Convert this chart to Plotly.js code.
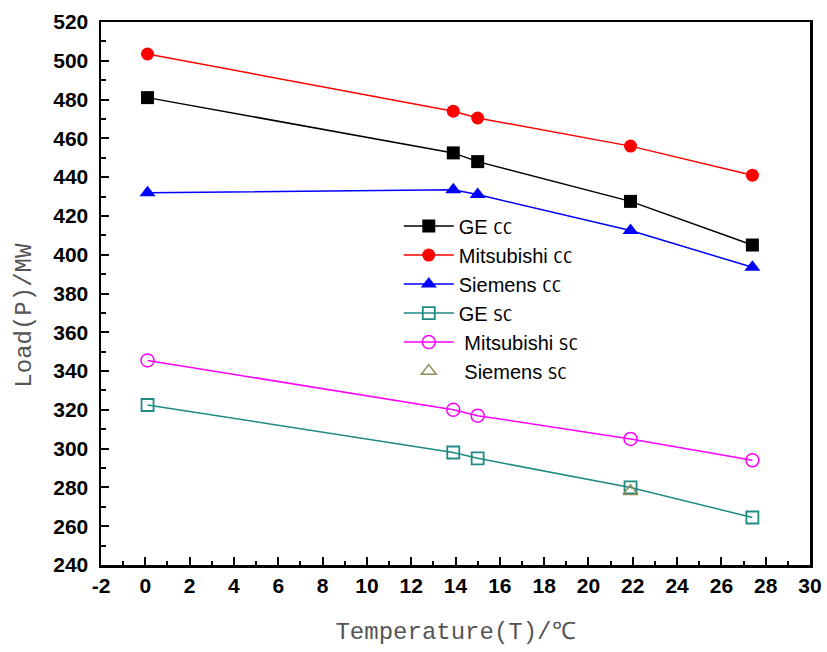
<!DOCTYPE html>
<html><head><meta charset="utf-8">
<script src="https://cdn.plot.ly/plotly-3.0.1.min.js"></script>
<style>body{margin:0;background:#fff}#c{width:827px;height:652px}</style>
</head><body><div id="c"></div>
<script>
const temps = [0.1, 13.9, 15.0, 21.9, 27.4];
const geCC = [481, 452.5, 448, 427.5, 405];
const mitsuCC = [503.5, 474, 470.5, 456, 441];
const siemensCC = [432, 433.5, 431, 412.5, 393.5];
const geSC = [322.5, 298, 295, 280, 264.5];
const mitsuSC = [345.5, 320, 317, 305, 294];
const siemensSCx = [21.9];
const siemensSC = [278];
const names = ['GE', 'Mitsubishi', 'Siemens', 'GE', 'Mitsubishi', 'Siemens'];
const suffix = ['CC', 'CC', 'CC', 'SC', 'SC', 'SC'];
const xTickVals = [-2, 0, 2, 4, 6, 8, 10, 12, 14, 16, 18, 20, 22, 24, 26, 28, 30];
const xTickText = ['-2', '0', '2', '4', '6', '8', '10', '12', '14', '16', '18', '20', '22', '24', '26', '28', '30'];
const yTickVals = [240, 260, 280, 300, 320, 340, 360, 380, 400, 420, 440, 460, 480, 500, 520];
const yTickText = ['240', '260', '280', '300', '320', '340', '360', '380', '400', '420', '440', '460', '480', '500', '520'];

function lab(i, pad) {
  return (pad ? '&nbsp;' : '') + names[i] + ' <span style="font-family:\'DejaVu Sans Mono\';font-size:16px">' + suffix[i] + '</span>';
}
const bold = arr => arr.map(s => '<b>' + s + '</b>');

const traces = [
  {x: temps, y: geCC, name: lab(0), mode: 'lines+markers',
   line: {color: '#000000', width: 1.5}, marker: {symbol: 'square', size: 13, color: '#000000'}},
  {x: temps, y: mitsuCC, name: lab(1), mode: 'lines+markers',
   line: {color: '#ff0000', width: 1.5}, marker: {symbol: 'circle', size: 13, color: '#ff0000'}},
  {x: temps, y: siemensCC, name: lab(2), mode: 'lines+markers',
   line: {color: '#0000ff', width: 1.5}, marker: {symbol: 'triangle-up', size: 14, color: '#0000ff'}},
  {x: temps, y: geSC, name: lab(3), mode: 'lines+markers',
   line: {color: '#1e8a84', width: 1.5}, marker: {symbol: 'square-open', size: 12, color: '#1e8a84', line: {width: 1.8}}},
  {x: temps, y: mitsuSC, name: lab(4, true), mode: 'lines+markers',
   line: {color: '#ff00ff', width: 1.5}, marker: {symbol: 'circle-open', size: 13, color: '#ff00ff', line: {width: 1.5}}},
  {x: siemensSCx, y: siemensSC, name: lab(5, true), mode: 'markers',
   marker: {symbol: 'triangle-up-open', size: 13, color: '#8c8c5a', line: {width: 1.5}}}
];

const tickFont = {family: 'Liberation Sans Narrow, Arial Narrow, Liberation Sans, sans-serif', size: 21, color: '#000'};
const titleFont = {family: 'Liberation Mono, DejaVu Sans Mono, monospace', size: 24, color: '#555'};

const layout = {
  width: 827, height: 652,
  margin: {l: 101, r: 17, t: 22, b: 87},
  paper_bgcolor: '#fff', plot_bgcolor: '#fff',
  showlegend: true,
  legend: {x: 0.42, y: 0.66, xanchor: 'left', yanchor: 'top', bgcolor: 'rgba(0,0,0,0)',
           font: {family: 'Liberation Sans, Arial, sans-serif', size: 20, color: '#000'},
           tracegroupgap: 0, itemwidth: 50},
  xaxis: {
    range: [-2, 30], tickmode: 'array', tickvals: xTickVals, ticktext: bold(xTickText),
    ticks: 'inside', ticklen: 8, tickwidth: 2, tickcolor: '#000',
    minor: {ticks: 'inside', ticklen: 4, tickwidth: 2, dtick: 1, tick0: -2, tickcolor: '#000'},
    showline: true, linewidth: 2.5, linecolor: '#000', mirror: true,
    showgrid: false, zeroline: false, tickfont: tickFont,
    title: {text: 'Temperature(T)/℃', font: titleFont, standoff: 27}
  },
  yaxis: {
    range: [240, 520], tickmode: 'array', tickvals: yTickVals, ticktext: bold(yTickText),
    ticks: 'inside', ticklen: 8, tickwidth: 2, tickcolor: '#000',
    minor: {ticks: 'inside', ticklen: 5, tickwidth: 2, dtick: 10, tick0: 240, tickcolor: '#000'},
    showline: true, linewidth: 2.5, linecolor: '#000', mirror: true,
    showgrid: false, zeroline: false, tickfont: tickFont, ticklabelstandoff: 6
  },
  annotations: [{
    text: 'Load(P)/MW', textangle: -90, xref: 'paper', yref: 'paper',
    x: -0.108, y: 0.46, xanchor: 'center', yanchor: 'middle', showarrow: false,
    font: titleFont
  }]
};

Plotly.newPlot('c', traces, layout, {displayModeBar: false, staticPlot: true});
</script>
</body></html>
